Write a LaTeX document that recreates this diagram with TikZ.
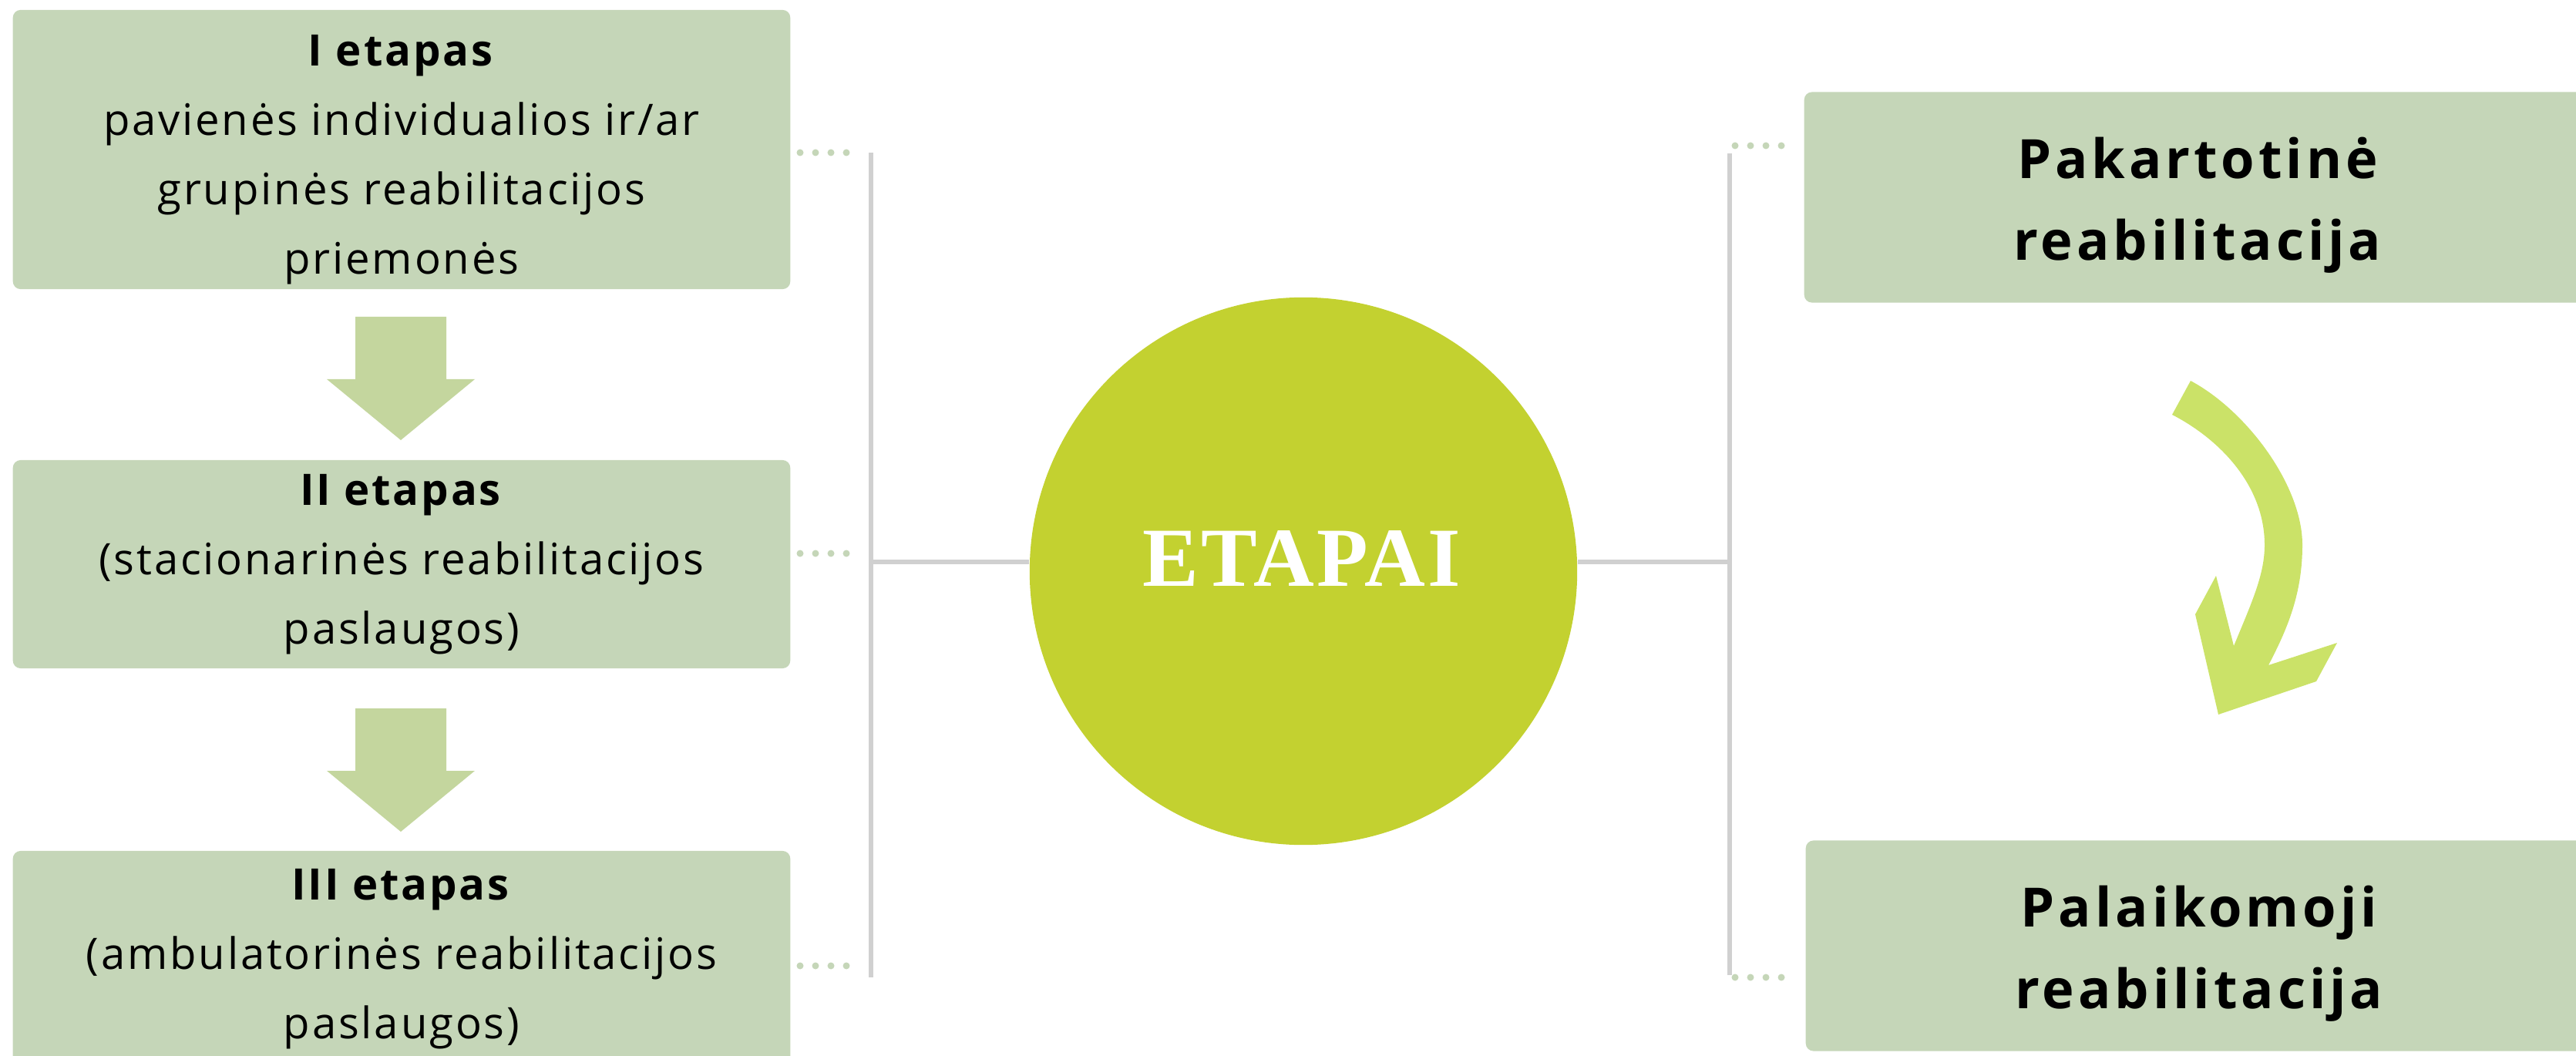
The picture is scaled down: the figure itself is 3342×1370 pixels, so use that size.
\documentclass[tikz,border=0pt]{standalone}
\usepackage{fontspec}
\setmainfont{Open Sans}[LetterSpace=5]
\newfontfamily\sidefont[LetterSpace=7]{Open Sans}
\newfontfamily\circfont[LetterSpace=3]{Liberation Serif}
\usetikzlibrary{calc}
\definecolor{boxgreen}{HTML}{C5D6B8}
\definecolor{arrowgreen}{HTML}{C4D69E}
\definecolor{circlegreen}{HTML}{C3D130}
\definecolor{curvegreen}{HTML}{CBE268}
\definecolor{linegrey}{HTML}{D0D0D0}
\tikzstyle{stagebox}=[rectangle,rounded corners=0.1cm,fill=boxgreen,minimum width=10.08cm,inner ysep=0pt,align=center,font=\fontsize{16}{25.6}\selectfont]
\tikzstyle{sidebox}=[rectangle,rounded corners=0.1cm,fill=boxgreen,minimum width=10.2cm,minimum height=2.73cm,inner ysep=0pt,align=center,font=\sidefont\bfseries\fontsize{20}{30}\selectfont]
\tikzstyle{bracket} = [draw=linegrey,line width=0.065cm]
\tikzstyle{dotline} = [draw=boxgreen,line width=0.09cm,line cap=round,dash pattern=on 0pt off 0.2cm]
\tikzstyle{blockarrow} = [fill=arrowgreen]

\begin{document}
\begin{tikzpicture}[x=0.01cm,y=-0.01cm]
    \clip (0,0) rectangle (3342,1370);

    % stages
    \node[stagebox,minimum height=3.62cm] (s1) at (521,194) {\rule{0pt}{19pt}\textbf{I etapas}\\pavienės individualios ir/ar\\grupinės reabilitacijos\\priemonės};
    \node[stagebox,minimum height=2.70cm] (s2) at (521,732) {\textbf{II etapas}\\(stacionarinės reabilitacijos\\paslaugos)};
    \node[stagebox,minimum height=2.80cm] (s3) at (521,1244) {\textbf{III etapas}\\(ambulatorinės reabilitacijos\\paslaugos)};

    \foreach \ya in {411,919}
        \fill[blockarrow] (461,\ya) -- ++(118,0) -- ++(0,81) -- ++(37,0) -- ++(-96,79) -- ++(-96,-79) -- ++(37,0) -- cycle;

    % centre
    \node[circle,fill=circlegreen,minimum size=7.1cm,inner sep=0pt] (etapai) at (1691,741) {};
    \node[text=white,font=\circfont\bfseries\fontsize{31}{31}\selectfont] (etapaitext) at (1689,725) {ETAPAI};

    \node[sidebox] (r1) at (2851,256) {\rule{0pt}{21pt}Pakartotinė\\reabilitacija};
    \node[sidebox] (r2) at (2853,1227) {\rule{0pt}{21pt}Palaikomoji\\reabilitacija};

    % brackets
    \coordinate (lt) at (1130,198);
    \coordinate (lm) at (1130,729);
    \coordinate (lb) at (1130,1268);
    \coordinate (rt) at (2244,199);
    \coordinate (rm) at (2244,729);
    \coordinate (rb) at (2244,1265);
    \path[bracket] (lt) -- (lb);
    \path[bracket] (lm) -- (lm -| etapai.west);
    \path[bracket] (rt) -- (rb);
    \path[bracket] (etapai.east |- rm) -- (rm);

    \foreach \stage/\ya in {s1/198, s2/718, s3/1253} {
        \coordinate (d\stage) at (1130,\ya);
        \path[dotline] ($(\stage.east |- d\stage)+(12,0)$) -- ($(d\stage)+(-12,0)$);
    }
    \foreach \stage/\ya in {r1/189, r2/1268} {
        \coordinate (d\stage) at (2244,\ya);
        \path[dotline] ($(d\stage)+(7,0)$) -- ($(\stage.west |- d\stage)+(-12,0)$);
    }

    % curved arrow
    \fill[curvegreen] (2842,494) .. controls (2915,533) and (2987,630) .. (2987,707)
        .. controls (2987,770) and (2968,815) .. (2943,863)
        -- (3032,834) -- (3005,884) -- (2878,927) -- (2848,797) -- (2875,747) -- (2898,838)
        .. controls (2922,780) and (2938,745) .. (2938,707)
        .. controls (2938,630) and (2880,570) .. (2818,538) -- cycle;
\end{tikzpicture}
\end{document}
